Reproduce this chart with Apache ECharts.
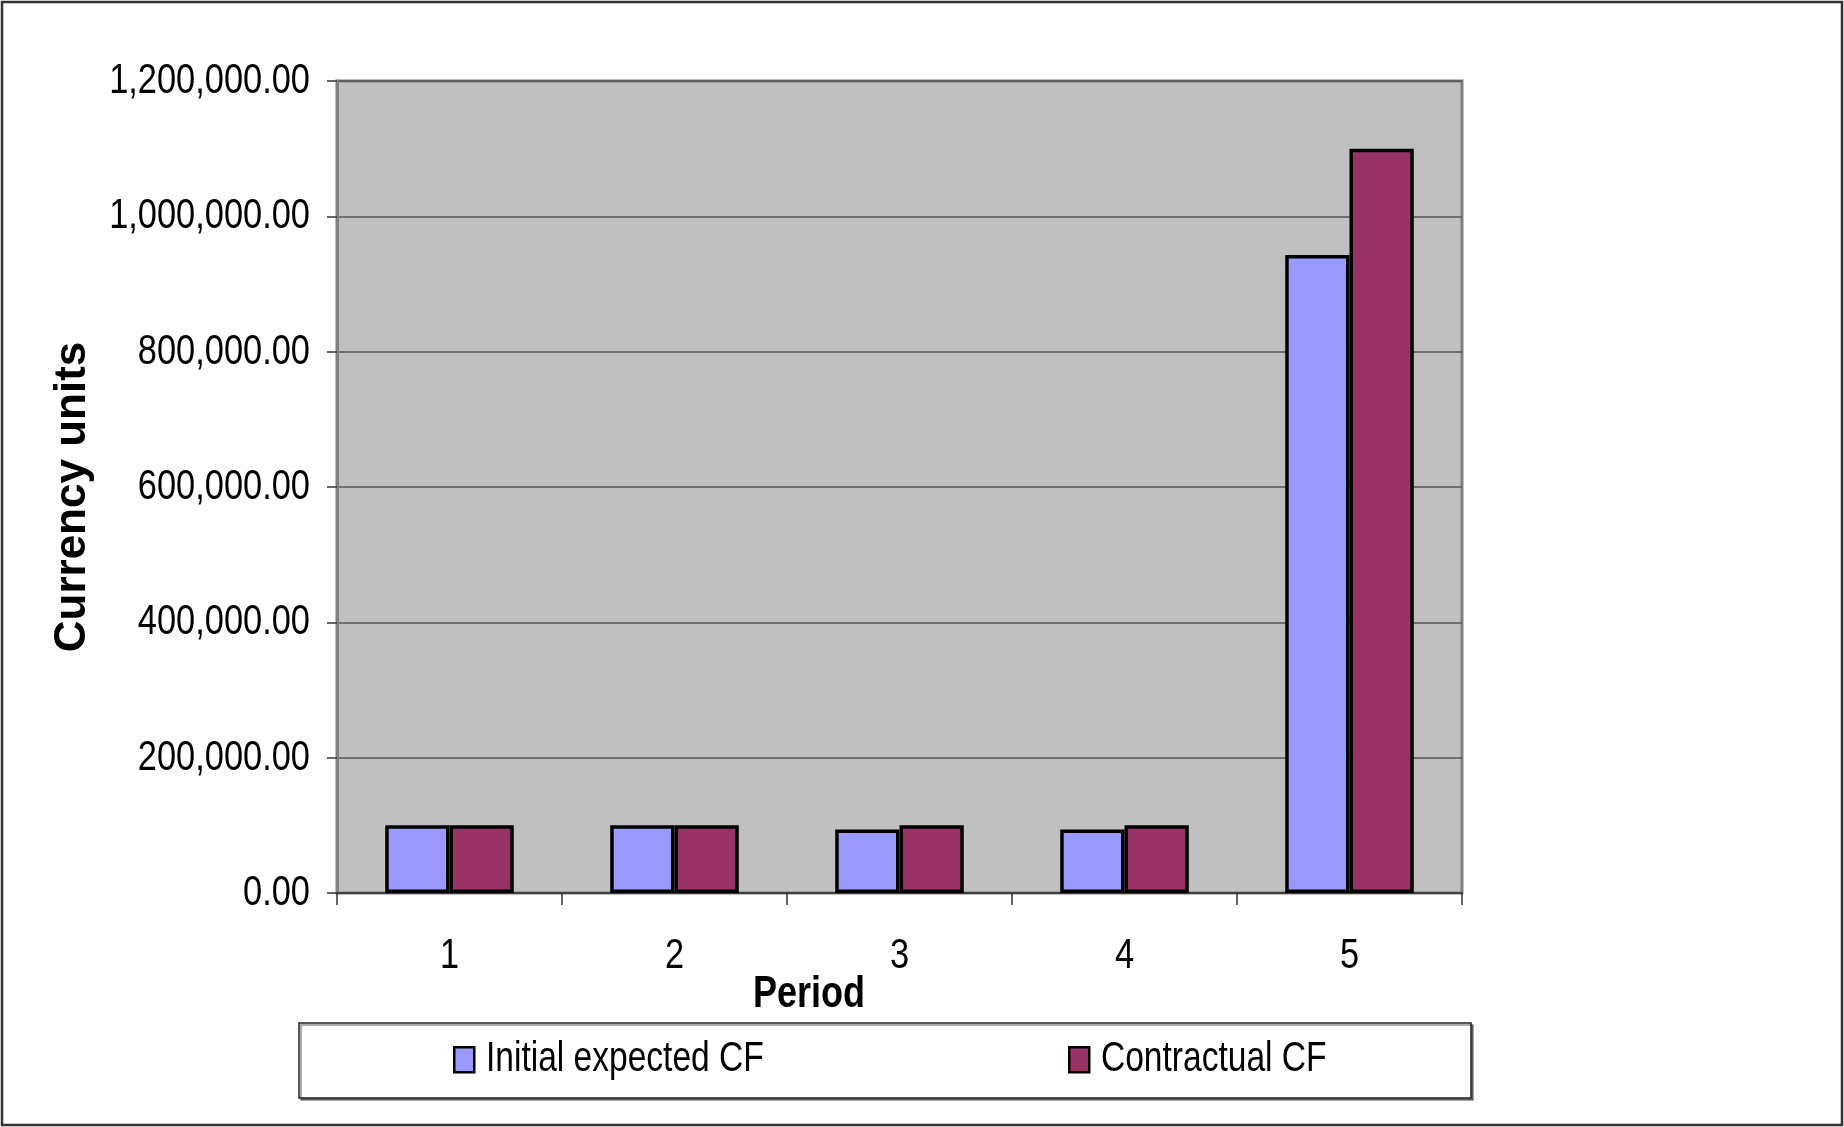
<!DOCTYPE html>
<html>
<head>
<meta charset="utf-8">
<title>Initial expected CF vs Contractual CF</title>
<script src="https://cdn.jsdelivr.net/npm/echarts@6/dist/echarts.min.js"></script>
<style>
  html, body { margin: 0; padding: 0; background: #ffffff; }
  #chart { width: 1844px; height: 1127px; }
</style>
</head>
<body>
<div id="chart"></div>
<script>
// Periods on the category axis
const periods = ['1', '2', '3', '4', '5'];

// Cash flows per period (currency units)
const initialExpectedCF = [100000, 100000, 94000, 94000, 943000];
const contractualCF = [100000, 100000, 100000, 100000, 1100000];

// Value axis range, step and tick values
const yMin = 0;
const yMax = 1200000;
const yStep = 200000;
const yTicks = [0, 200000, 400000, 600000, 800000, 1000000, 1200000];

const seriesNames = ['Initial expected CF', 'Contractual CF'];
const seriesColors = ['#9999FF', '#993366'];

// Condensed look: regular sans drawn with a horizontal squeeze
const SANS = '"Liberation Sans", Arial, sans-serif';
const SQUEEZE = 0.8;

function formatAmount(v) {
  const fixed = Number(v).toFixed(2);
  const parts = fixed.split('.');
  parts[0] = parts[0].replace(/\B(?=(\d{3})+(?!\d))/g, ',');
  return parts.join('.');
}

const chart = echarts.init(document.getElementById('chart'), null, { renderer: 'canvas' });

const legendBase = {
  top: 1046,
  padding: 0,
  icon: 'rect',
  itemWidth: 20,
  itemHeight: 25,
  itemStyle: { borderColor: '#000000', borderWidth: 2.5 },
  formatter: function () { return ''; },
  textStyle: { fontSize: 1 }
};

const option = {
  backgroundColor: '#ffffff',
  animation: false,
  grid: {
    left: 337,
    right: 382,
    top: 81,
    bottom: 234,
    show: true,
    backgroundColor: '#C0C0C0',
    borderColor: '#808080',
    borderWidth: 3
  },
  xAxis: {
    type: 'category',
    data: periods,
    axisLine: { show: true, lineStyle: { color: '#404040', width: 2 } },
    axisTick: { show: true, length: 12, lineStyle: { color: '#333333', width: 1.5 } },
    axisLabel: { show: false },
    splitLine: { show: false }
  },
  yAxis: {
    type: 'value',
    min: yMin,
    max: yMax,
    interval: yStep,
    axisLine: { show: true, lineStyle: { color: '#808080', width: 3 } },
    axisTick: { show: true, length: 10, lineStyle: { color: '#333333', width: 1.5 } },
    axisLabel: { show: false },
    splitLine: { show: true, lineStyle: { color: '#555555', width: 1.5 } }
  },
  legend: [
    Object.assign({ data: [seriesNames[0]], left: 453 }, legendBase),
    Object.assign({ data: [seriesNames[1]], left: 1068 }, legendBase)
  ],
  series: [
    {
      name: seriesNames[0],
      type: 'bar',
      data: initialExpectedCF,
      barGap: '0%',
      barCategoryGap: '42.86%',
      itemStyle: { color: seriesColors[0], borderColor: '#000000', borderWidth: 3.5 }
    },
    {
      name: seriesNames[1],
      type: 'bar',
      data: contractualCF,
      barGap: '0%',
      barCategoryGap: '42.86%',
      itemStyle: { color: seriesColors[1], borderColor: '#000000', borderWidth: 3.5 }
    }
  ]
};

chart.setOption(option);

// Frames, titles and condensed labels placed through the axes' own scales
const graphics = [
  // outer chart frame
  {
    type: 'rect',
    z: 0,
    shape: { x: 2, y: 2, width: 1840, height: 1123 },
    style: { fill: 'none', stroke: '#333333', lineWidth: 2.5 }
  },
  // legend frame
  {
    type: 'rect',
    z: 0,
    shape: { x: 299, y: 1023, width: 1172, height: 75 },
    style: {
      fill: '#ffffff',
      stroke: '#222222',
      lineWidth: 1.5,
      shadowColor: 'rgba(0,0,0,0.45)',
      shadowOffsetX: 2,
      shadowOffsetY: 2,
      shadowBlur: 0
    }
  },
  // value axis title
  {
    type: 'text',
    x: 73,
    y: 497,
    rotation: Math.PI / 2,
    style: {
      text: 'Currency units',
      font: 'bold 44px ' + SANS,
      fill: '#000000',
      textAlign: 'center',
      textVerticalAlign: 'middle'
    }
  },
  // category axis title
  {
    type: 'text',
    x: 809,
    y: 995,
    scaleX: 0.8,
    style: {
      text: 'Period',
      font: 'bold 45px ' + SANS,
      fill: '#000000',
      textAlign: 'center',
      textVerticalAlign: 'middle'
    }
  }
];

// value axis tick labels
yTicks.forEach(function (v) {
  const py = chart.convertToPixel({ yAxisIndex: 0 }, v);
  graphics.push({
    type: 'text',
    x: 310,
    y: py,
    scaleX: SQUEEZE,
    style: {
      text: formatAmount(v),
      font: '43px ' + SANS,
      fill: '#000000',
      textAlign: 'right',
      textVerticalAlign: 'middle'
    }
  });
});

// category axis labels
const axisBottom = chart.convertToPixel({ yAxisIndex: 0 }, yMin);
periods.forEach(function (p) {
  const px = chart.convertToPixel({ xAxisIndex: 0 }, p);
  graphics.push({
    type: 'text',
    x: px,
    y: axisBottom + 63,
    scaleX: SQUEEZE,
    style: {
      text: p,
      font: '43px ' + SANS,
      fill: '#000000',
      textAlign: 'center',
      textVerticalAlign: 'middle'
    }
  });
});

// legend entry names beside the legend markers
const legendTextX = [486, 1101];
seriesNames.forEach(function (name, i) {
  graphics.push({
    type: 'text',
    x: legendTextX[i],
    y: 1059,
    scaleX: 0.78,
    style: {
      text: name,
      font: '43px ' + SANS,
      fill: '#000000',
      textAlign: 'left',
      textVerticalAlign: 'middle'
    }
  });
});

chart.setOption({ graphic: graphics });
</script>
</body>
</html>
